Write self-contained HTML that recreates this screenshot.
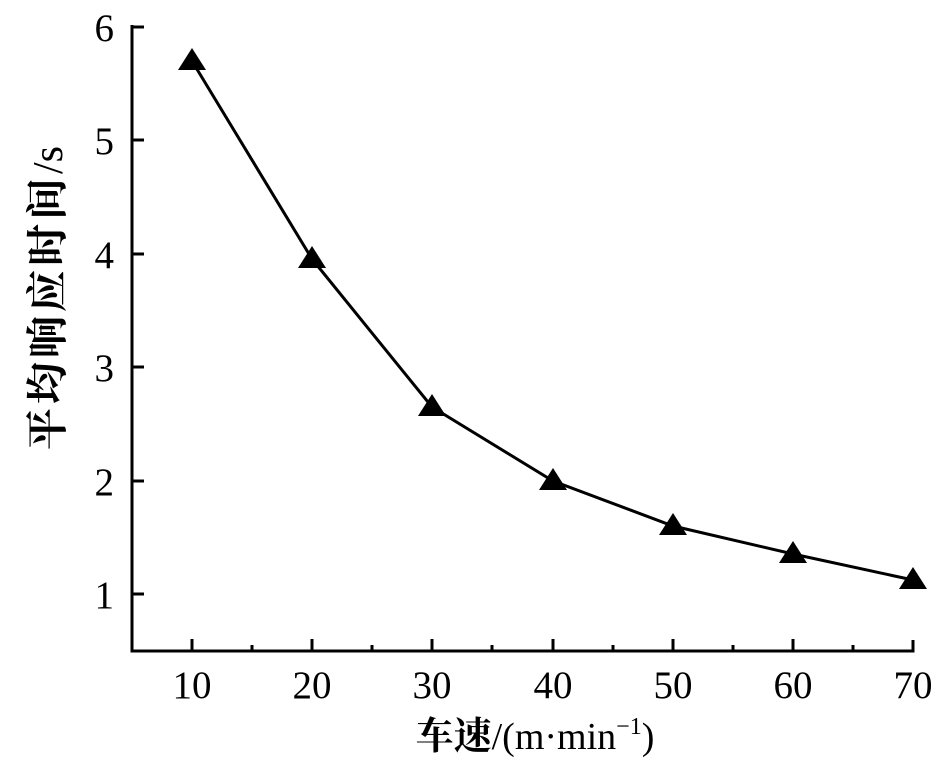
<!DOCTYPE html>
<html><head><meta charset="utf-8"><style>body{margin:0;background:#fff}</style></head><body>
<svg width="950" height="764" xmlns="http://www.w3.org/2000/svg" font-family="Liberation Serif, serif">
<rect width="950" height="764" fill="#fff"/>
<g stroke="#000" stroke-width="3" fill="none">
<polyline points="132,25 132,651 913,651 913,640"/>
<line x1="132" y1="594" x2="144" y2="594"/><line x1="132" y1="481" x2="144" y2="481"/>
<line x1="132" y1="367" x2="144" y2="367"/><line x1="132" y1="254" x2="144" y2="254"/>
<line x1="132" y1="140" x2="144" y2="140"/><line x1="132" y1="27" x2="144" y2="27"/>
<line x1="192" y1="651" x2="192" y2="639"/><line x1="312" y1="651" x2="312" y2="639"/>
<line x1="432" y1="651" x2="432" y2="639"/><line x1="553" y1="651" x2="553" y2="639"/>
<line x1="673" y1="651" x2="673" y2="639"/><line x1="793" y1="651" x2="793" y2="639"/>
<line x1="252" y1="651" x2="252" y2="645"/><line x1="372" y1="651" x2="372" y2="645"/>
<line x1="492" y1="651" x2="492" y2="645"/><line x1="613" y1="651" x2="613" y2="645"/>
<line x1="733" y1="651" x2="733" y2="645"/><line x1="853" y1="651" x2="853" y2="645"/>
<polyline stroke-width="3" points="192,61 312,259 432,407 553,481 673,526 793,554 913,580"/>
</g>
<g fill="#000">
<path d="M192,48 l14,22 h-28z"/><path d="M312,246 l14,22 h-28z"/><path d="M432,394 l14,22 h-28z"/>
<path d="M553,468 l14,22 h-28z"/><path d="M673,513 l14,22 h-28z"/><path d="M793,541 l14,22 h-28z"/>
<path d="M913,567 l14,22 h-28z"/>
</g>
<g font-size="39" text-anchor="end">
<text x="114" y="608">1</text><text x="114" y="495">2</text><text x="114" y="381">3</text>
<text x="114" y="268">4</text><text x="114" y="154">5</text><text x="114" y="41">6</text>
</g>
<g font-size="39" text-anchor="middle">
<text x="192" y="698">10</text><text x="312" y="698">20</text><text x="432" y="698">30</text>
<text x="553" y="698">40</text><text x="673" y="698">50</text><text x="793" y="698">60</text><text x="913" y="698">70</text>
</g>
<text x="535" y="749" font-size="38" text-anchor="middle" font-weight="bold" font-family="Liberation Serif, Noto Serif CJK SC, serif"><tspan>车速</tspan><tspan font-weight="normal">/(m·min<tspan font-size="24" dy="-15">−1</tspan><tspan dy="15">)</tspan></tspan></text>
<text transform="translate(62,298) rotate(-90)" font-size="42" text-anchor="middle" font-weight="bold" letter-spacing="4" font-family="Liberation Serif, Noto Serif CJK SC, serif">平均响应时间<tspan font-weight="normal" letter-spacing="0">/s</tspan></text>
</svg>
</body></html>
